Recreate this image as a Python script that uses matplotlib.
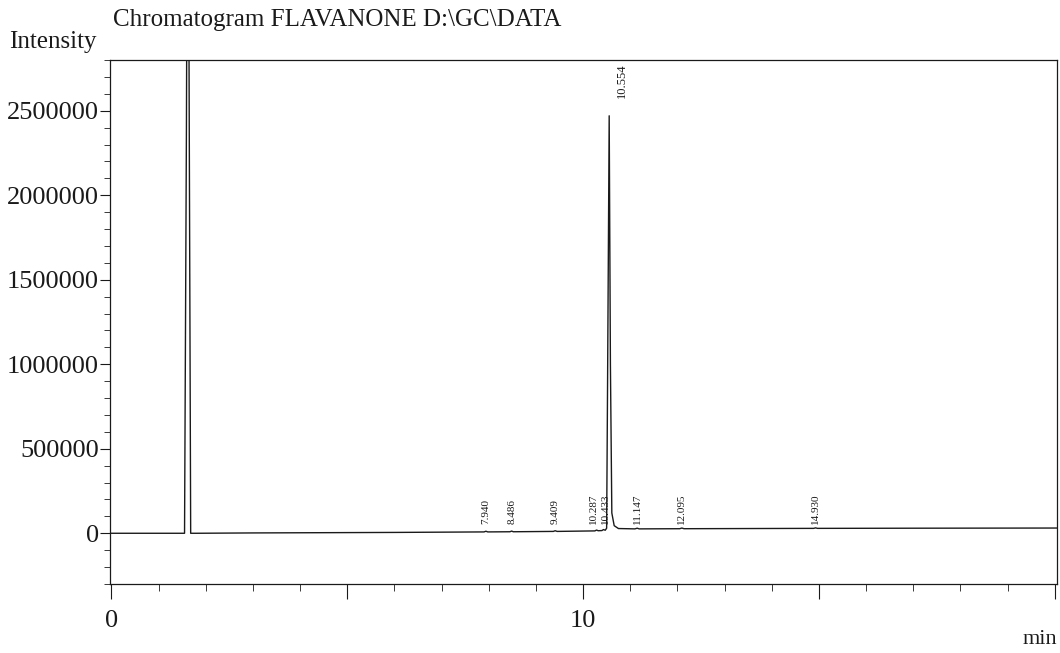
import matplotlib.pyplot as plt
from matplotlib.ticker import FixedLocator, FixedFormatter, MultipleLocator, FuncFormatter

# trace key points (min, intensity)
times = [0.00, 1.00, 1.55, 1.59, 1.62, 1.65, 1.68, 1.80, 3.00, 6.00, 7.90,
         7.94, 7.98, 8.45, 8.486, 8.52, 9.37, 9.409, 9.45, 10.25, 10.287,
         10.32, 10.40, 10.433, 10.47, 10.50, 10.52, 10.554, 10.58, 10.61,
         10.66, 10.75, 11.10, 11.147, 11.19, 12.05, 12.095, 12.14, 14.89,
         14.930, 14.97, 17.00, 20.10]
intensity = [0, 0, 0, 2400000, 5000000, 2400000, 0, 0, 2000, 5000, 8000,
             12000, 8000, 9000, 13000, 9000, 11000, 15000, 11000, 14000, 19000,
             15000, 16000, 22000, 18000, 30000, 900000, 2470000, 1000000, 120000,
             45000, 28000, 26000, 30000, 26000, 27000, 31000, 27000, 29000,
             32000, 29000, 30000, 31000]

peak_rt = [7.940, 8.486, 9.409, 10.287, 10.433, 10.554, 11.147, 12.095, 14.930]
peak_labels = ["7.940", "8.486", "9.409", "10.287", "10.433", "10.554",
               "11.147", "12.095", "14.930"]

x_ticks = [0, 5, 10, 15, 20]
x_tick_labels = ["0", "", "10", "", ""]
y_ticks = [0, 500000, 1000000, 1500000, 2000000, 2500000]

ink = "#1a1a1a"
plt.rcParams["font.family"] = ["Liberation Serif", "DejaVu Serif"]

fig = plt.figure(figsize=(10.6, 6.53), dpi=100)
ax = fig.add_axes([0.1038, 0.1057, 0.8934, 0.8024])

ax.plot(times, intensity, color=ink, lw=1.0)

# small nudges so the two close labels don't sit on top of each other
nudge = {"10.287": -0.06, "10.433": 0.05, "10.554": 0.27}
for rt, lab in zip(peak_rt, peak_labels):
    x = rt + nudge.get(lab, 0)
    if lab == "10.554":
        ax.text(x, 2780000, lab, rotation=90, fontsize=9,
                ha="center", va="top", color=ink)
    else:
        ax.text(x, 55000, lab, rotation=90, fontsize=8,
                ha="center", va="bottom", color=ink)

ax.set_xlim(-0.03, 20.05)
ax.set_ylim(-300000, 2800000)

ax.xaxis.set_major_locator(FixedLocator(x_ticks))
ax.xaxis.set_major_formatter(FixedFormatter(x_tick_labels))
ax.xaxis.set_minor_locator(MultipleLocator(1))
ax.yaxis.set_major_locator(FixedLocator(y_ticks))
ax.yaxis.set_major_formatter(FuncFormatter(lambda v, p: "%d" % v))
ax.yaxis.set_minor_locator(MultipleLocator(100000))

ax.tick_params(axis="both", which="both", direction="out", color=ink,
               labelsize=19, labelcolor=ink, top=False, right=False)
ax.tick_params(axis="x", which="major", length=11, pad=8)
ax.tick_params(axis="x", which="minor", length=5)
ax.tick_params(axis="y", which="major", length=7, pad=1)
ax.tick_params(axis="y", which="minor", length=4)

for s in ax.spines.values():
    s.set_color(ink)
    s.set_linewidth(0.9)

fig.text(0.1066, 0.970, "Chromatogram FLAVANONE D:\\GC\\DATA", fontsize=18,
         ha="left", va="center", color=ink)
fig.text(0.0085, 0.936, "Intensity", fontsize=18, ha="left", va="center", color=ink)
fig.text(0.997, 0.020, "min", fontsize=16, ha="right", va="center", color=ink)

fig.savefig("out.png", dpi=100)
